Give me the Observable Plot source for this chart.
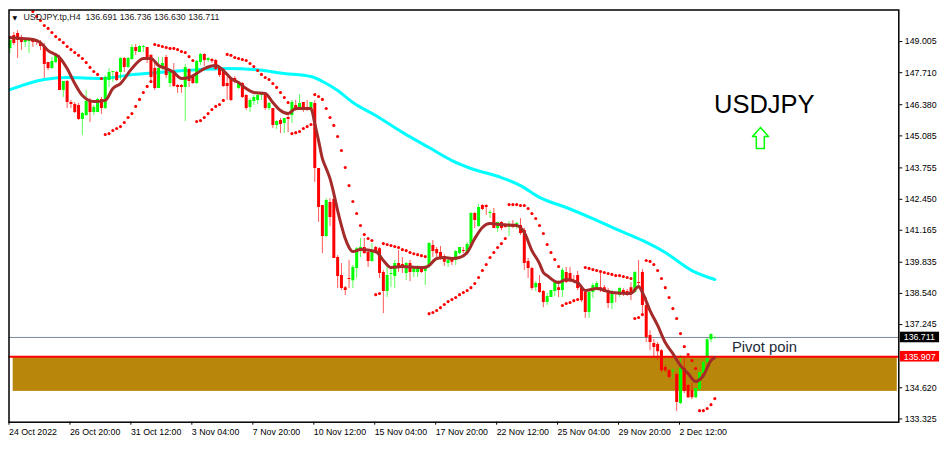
<!DOCTYPE html>
<html>
<head>
<meta charset="utf-8">
<style>html,body{margin:0;padding:0;background:#fff}</style>
<script src="https://cdn.jsdelivr.net/npm/d3@7"></script>
<script src="https://cdn.jsdelivr.net/npm/@observablehq/plot@0.6"></script>
</head>
<body>
<div id="chart"></div>
<script>
const opens = [
148.72,149.26,149.34,149.17,148.96,149.01,149.13,149.05,148.96,148.80,
148.13,147.88,148.13,148.34,146.97,147.34,146.47,146.39,146.35,145.77,
145.93,146.56,146.06,146.06,146.60,146.22,147.39,147.72,147.72,147.72,
148.30,147.93,148.26,148.76,148.55,148.76,148.76,148.43,147.88,147.05,
147.88,148.34,147.26,147.76,147.18,147.18,147.10,147.84,147.55,147.26,
148.13,148.47,148.22,148.26,148.22,147.88,147.84,147.26,147.47,147.47,
147.05,147.26,146.76,146.26,146.51,146.56,146.76,146.76,146.22,146.22,
145.52,145.72,145.60,145.85,145.93,146.35,146.22,146.47,146.26,146.14,
146.43,143.73,142.19,140.90,142.32,142.44,140.03,139.28,138.78,139.16,
139.07,139.58,140.32,140.45,140.24,139.87,140.45,140.40,139.41,138.62,
139.33,139.24,139.78,139.74,139.37,139.78,139.41,139.41,139.58,139.45,
139.70,140.53,140.36,140.24,140.07,139.78,139.99,139.91,140.19,140.32,
140.24,140.53,141.86,141.32,142.19,142.19,141.86,141.86,141.24,141.49,
141.32,141.28,141.40,141.32,141.36,141.15,139.87,139.58,138.78,138.95,
138.62,138.16,138.37,138.62,138.78,138.66,139.41,139.37,139.07,139.28,
138.74,138.58,137.75,138.58,138.74,138.78,138.78,138.66,138.12,138.58,
138.45,138.66,138.62,138.78,138.58,138.99,139.41,138.04,136.79,136.46,
136.42,136.16,135.46,135.33,135.29,135.17,133.97,135.42,134.71,134.50,
134.21,134.55,135.21,135.67,136.62,136.691];
const highs = [
149.17,149.38,149.46,149.26,149.13,149.13,149.13,149.09,149.05,148.92,
148.13,148.34,148.51,148.43,147.34,147.39,146.56,146.47,146.43,146.06,
146.97,146.64,146.35,146.64,146.68,147.59,147.88,147.76,147.76,148.34,
148.34,148.34,148.88,148.88,148.84,148.84,148.76,148.43,148.09,148.34,
148.34,148.43,147.80,148.09,147.22,147.22,148.05,147.88,147.59,148.22,
148.51,148.51,148.34,148.30,148.26,147.97,147.88,147.51,147.51,147.55,
147.34,147.30,146.80,146.64,146.76,146.85,146.89,146.85,146.47,146.22,
145.72,145.81,145.81,146.01,146.56,146.56,146.80,146.47,146.56,146.47,
146.56,143.73,142.19,142.48,142.48,142.48,140.11,139.78,138.83,139.91,
139.70,140.45,140.82,140.82,140.32,140.61,140.50,140.45,139.49,139.70,
139.58,139.91,140.32,140.03,139.83,139.91,139.66,139.70,139.62,139.70,
140.65,140.74,140.45,140.49,140.15,140.03,140.03,140.32,140.45,140.45,
140.65,141.90,141.90,142.23,142.23,142.23,141.98,142.07,141.49,141.53,
141.44,141.53,141.57,141.49,141.65,141.24,139.99,139.62,139.03,139.28,
138.66,138.54,138.66,139.07,139.07,139.58,139.62,139.62,139.28,139.45,
138.78,138.66,138.66,138.95,139.03,139.45,138.87,138.74,138.66,138.58,
138.78,138.74,138.70,138.99,139.45,139.91,139.53,138.37,136.99,136.62,
136.50,136.21,135.54,135.38,135.42,135.21,135.96,135.83,134.75,134.80,
134.59,135.25,135.71,136.67,136.87,136.736];
const lows = [
148.51,148.84,148.30,148.63,148.76,148.51,148.76,148.84,148.63,147.47,
147.80,147.84,148.09,146.97,146.68,146.22,146.22,146.01,145.72,145.10,
145.89,145.64,145.93,146.06,145.97,146.18,147.10,147.30,147.34,147.39,
147.72,147.88,148.22,148.43,148.55,148.55,148.09,147.26,146.97,147.05,
147.80,147.47,147.10,147.10,146.85,146.85,145.68,147.10,147.22,147.22,
148.01,147.97,148.13,148.09,147.80,147.51,147.10,146.56,146.51,147.26,
147.01,146.64,146.14,146.06,146.35,146.39,146.56,146.14,146.14,145.39,
145.35,145.18,145.18,145.22,145.60,146.10,146.14,146.06,146.10,146.06,
143.15,141.49,140.19,140.86,141.32,139.99,138.74,138.66,138.45,138.74,
138.74,139.16,140.03,140.19,139.62,139.83,140.19,139.16,137.70,138.37,
138.78,138.74,139.41,139.37,139.07,139.03,139.20,139.20,139.37,138.87,
139.58,140.03,140.03,139.91,139.66,139.62,139.70,139.70,140.16,140.19,
140.24,140.53,141.24,141.28,141.98,141.78,141.65,141.24,141.07,141.15,
141.24,140.90,141.24,141.20,140.95,139.49,139.16,138.66,138.62,138.54,
137.95,138.04,138.37,138.41,138.37,138.37,138.95,138.99,138.95,138.66,
138.16,137.50,137.50,138.33,138.66,138.58,138.58,137.91,137.87,138.16,
138.37,138.41,138.41,138.24,138.54,138.78,137.66,136.50,136.16,135.83,
135.75,135.25,135.25,135.00,135.00,133.63,133.92,134.38,134.17,134.13,
134.17,134.50,135.00,135.59,136.50,136.630];
const closes = [
149.05,148.92,149.05,148.96,149.09,149.13,148.96,148.96,148.80,148.05,
147.88,148.18,148.43,146.97,147.34,146.47,146.39,146.06,145.77,146.01,
146.51,146.06,146.26,146.60,146.22,147.51,147.72,147.76,147.39,148.30,
147.93,148.30,148.76,148.59,148.80,148.80,148.34,147.51,147.05,147.88,
148.09,147.59,147.72,147.14,147.10,147.10,147.93,147.34,147.26,148.18,
148.47,148.22,148.30,148.18,147.84,147.59,147.14,147.14,146.56,147.34,
147.30,146.68,146.22,146.56,146.68,146.76,146.85,146.22,146.43,145.52,
145.68,145.56,145.81,145.77,146.47,146.14,146.43,146.14,146.14,146.47,
143.73,142.11,140.90,142.40,141.69,139.99,139.24,138.74,138.66,139.12,
139.62,140.40,140.45,140.19,139.87,140.32,140.19,139.37,138.62,139.28,
139.37,139.78,139.62,139.62,139.78,139.41,139.62,139.58,139.41,139.62,
140.61,140.28,140.19,139.99,139.83,139.91,139.83,140.28,140.45,140.28,
140.57,141.86,141.57,142.11,142.03,142.11,141.90,141.24,141.49,141.24,
141.28,141.40,141.28,141.44,141.03,139.78,139.58,138.74,138.95,138.58,
138.16,138.41,138.66,138.99,138.66,139.49,138.99,139.03,139.03,138.74,
138.24,137.75,138.58,138.87,138.95,138.66,138.58,138.12,138.58,138.54,
138.74,138.54,138.45,138.54,139.41,138.95,138.04,136.71,136.50,136.29,
136.12,135.33,135.33,135.05,135.33,134.01,135.42,134.47,134.21,134.21,
134.59,135.25,135.67,136.62,136.83,136.711];
const sarStart = 6;
const sar = [
150.25,150.05,149.88,149.67,149.55,149.38,149.21,149.09,148.96,148.80,148.67,148.55,148.43,148.30,148.13,147.93,147.76,147.64,147.47,
145.14,145.18,145.31,145.39,145.47,145.64,145.85,146.01,146.31,146.60,146.89,147.14,147.34,
148.88,148.84,148.80,148.76,148.72,148.72,148.67,148.59,148.55,148.38,148.22,
145.68,145.72,145.85,146.01,146.18,146.31,146.39,146.56,
148.47,148.43,148.34,148.30,148.26,148.22,148.09,147.97,147.80,147.64,147.51,147.43,147.26,147.10,146.89,146.68,146.47,
145.18,145.22,145.27,145.39,145.47,145.56,
146.80,146.72,146.60,146.22,145.85,145.52,145.06,144.48,143.77,143.02,142.36,141.86,141.36,140.99,140.82,140.74,
138.49,138.54,
140.61,140.57,140.53,140.49,140.45,140.36,140.32,140.24,140.19,140.15,140.11,140.07,
137.70,137.75,137.83,137.95,138.08,138.20,138.29,138.37,138.49,138.58,138.66,138.78,138.95,139.20,139.49,139.74,140.03,140.24,140.45,140.61,140.82,
142.23,142.23,142.23,142.19,142.19,142.07,141.86,141.65,141.36,141.03,140.57,140.24,139.95,139.66,
138.04,138.12,138.16,138.24,138.29,null,
139.62,139.58,139.53,139.49,139.45,139.41,139.37,139.33,139.28,139.28,139.24,139.20,139.16,
137.50,137.54,137.66,
139.91,139.87,139.74,139.49,139.16,138.78,138.37,137.91,137.50,136.87,136.33,136.00,135.75,135.42,
133.67,133.67,133.76,133.92,134.17];
const maBars = [0,3,6,8,10,13,15,17,19,22,25,27,29,32,35,37,39,41,43,45,47,49,51,54,56,58,60,62,64,67,69,71,73,75,78,79,80,81,82,83,84,85,86,87,88,89,90,92,96,98,100,103,107,109,110,112,114,116,118,120,122,124,126,129,133,135,137,139,140,141,144,146,149,151,154,158,163,165,166,168,170,172,174,176,178,180,182,184,185];
const maValues = [149.17,149.13,149.09,148.96,148.63,148.34,147.88,147.26,146.76,146.51,146.56,147.05,147.26,147.88,148.30,148.30,148.01,147.88,147.72,147.47,147.51,147.68,147.88,148.01,147.80,147.47,147.30,147.05,146.89,146.85,146.47,146.14,146.01,146.22,146.22,146.22,145.60,144.89,144.14,143.73,143.31,142.69,141.98,141.36,140.82,140.45,140.28,140.36,140.28,139.91,139.62,139.66,139.62,139.62,139.70,139.99,140.03,139.99,140.03,140.24,140.82,141.28,141.44,141.40,141.36,141.07,140.32,139.78,139.41,139.28,138.99,139.12,138.99,138.66,138.74,138.58,138.54,138.83,138.58,137.83,137.21,136.50,136.04,135.54,135.21,134.88,135.13,135.75,135.88];
const slowBars = [0,9,15,24,32,39,46,57,64,72,79,83,86,90,96,103,110,116,121,129,134,139,146,153,160,166,172,179,185];
const slowValues = [147.01,147.43,147.51,147.47,147.63,147.72,147.80,147.88,147.84,147.68,147.55,147.26,146.97,146.47,145.93,145.23,144.60,144.06,143.73,143.35,143.02,142.53,142.11,141.65,141.15,140.74,140.24,139.49,139.12];
const xTickBars = [0,16,32,48,64,80,96,112,128,144,160,176];
const xTickLabels = ["24 Oct 2022","26 Oct 20:00","31 Oct 12:00","3 Nov 04:00","7 Nov 20:00","10 Nov 12:00","15 Nov 04:00","17 Nov 20:00","22 Nov 12:00","25 Nov 04:00","29 Nov 20:00","2 Dec 12:00"];
const yTicks = [149.005,147.710,146.380,145.085,143.755,142.450,141.165,139.835,138.540,137.245,134.620,133.325];
const lastPrice = 136.711;
const pivotPrice = 135.907;
const zoneLow = 134.47;
const zoneBars = [0.84,232.9];
const arrowBars = [197,199.1,198,198,195.9,195.9,194.9,197];
const arrowPrices = [145.43,145.06,145.06,144.56,144.56,145.06,145.06,145.43];
const header = "USDJPY.tp,H4  136.691 136.736 136.630 136.711";

const up = "#00ff00", down = "#ff0000";
const candles = opens.map((o,i)=>({i,o,h:highs[i],l:lows[i],c:closes[i],col:closes[i]>=o?up:down}));
const sarPts = sar.map((v,k)=>({i:k+sarStart,v})).filter(d=>d.v!=null);
const FONT = "'Liberation Sans', Arial, sans-serif";

const plot = Plot.plot({
  width: 949, height: 451,
  marginLeft: 8.5, marginRight: 50.7, marginTop: 9.5, marginBottom: 29.3,
  style: {fontFamily: FONT, fontSize: "8.8px", background: "#fff", color: "#000"},
  x: {domain: [-0.26, 233.3], axis: null},
  y: {domain: [133.19, 150.315], axis: null},
  marks: [
    Plot.rect([0],{x1:()=>zoneBars[0],x2:()=>zoneBars[1],y1:()=>zoneLow,y2:()=>pivotPrice,fill:"#b8860b"}),
    Plot.ruleY([lastPrice],{stroke:"#778899",strokeWidth:1}),
    Plot.line(slowBars.map((b,k)=>({b,v:slowValues[k]})),{x:"b",y:"v",stroke:"#00ffff",strokeWidth:3,curve:"monotone-x",clip:true}),
    Plot.ruleX(candles,{x:"i",y1:"l",y2:"h",stroke:"col",strokeWidth:1,strokeOpacity:0.65,clip:true}),
    Plot.ruleX(candles,{x:"i",y1:"o",y2:"c",stroke:"col",strokeWidth:3,clip:true}),
    Plot.ruleY([pivotPrice],{stroke:"#ff0000",strokeWidth:2}),
    Plot.line(maBars.map((b,k)=>({b,v:maValues[k]})),{x:"b",y:"v",stroke:"#a52a2a",strokeWidth:3,curve:"monotone-x",clip:true}),
    Plot.dot(sarPts,{x:"i",y:"v",r:1.55,fill:"#ff0000",clip:true}),
    Plot.frame({stroke:"#000",strokeWidth:1.5}),
    Plot.axisY(yTicks,{anchor:"right",tickSize:3,tickPadding:3,textAnchor:"start",tickFormat:d=>d.toFixed(3),label:null,stroke:"#000"}),
    Plot.axisX(xTickBars,{anchor:"bottom",tickSize:3,tickPadding:4,textAnchor:"start",dx:-1,tickFormat:d=>xTickLabels[xTickBars.indexOf(d)],label:null,stroke:"#000"}),
    Plot.rect([0],{x1:()=>233.7,x2:()=>244,y1:()=>136.49,y2:()=>136.93,fill:"#000"}),
    Plot.rect([0],{x1:()=>233.7,x2:()=>244,y1:()=>135.69,y2:()=>136.13,fill:"#ff0000"}),
    Plot.text([lastPrice],{x:()=>234.6,y:d=>d,text:d=>d.toFixed(3),textAnchor:"start",fill:"#fff"}),
    Plot.text([pivotPrice],{x:()=>234.6,y:d=>d,text:d=>d.toFixed(3),textAnchor:"start",fill:"#fff"}),
    Plot.text([header],{frameAnchor:"top-left",dx:14.5,dy:3.5,textAnchor:"start",lineAnchor:"top",fill:"#1a1a1a"}),
    Plot.text(["▼"],{frameAnchor:"top-left",dx:3.5,dy:5.5,textAnchor:"start",lineAnchor:"top",fontSize:6,fill:"#000",fontFamily:"'DejaVu Sans'"}),
    Plot.text(["USDJPY"],{x:()=>198,y:()=>146.39,fontSize:25.5,fill:"#000"}),
    Plot.text(["Pivot poin"],{x:()=>189.5,y:()=>136.3,textAnchor:"start",fontSize:14.8,fill:"#222a35"}),
    Plot.line(arrowBars.map((b,k)=>({b,v:arrowPrices[k]})),{x:"b",y:"v",stroke:"#00ff00",strokeWidth:1.5})
  ]
});
document.getElementById("chart").appendChild(plot);
</script>
</body>
</html>
